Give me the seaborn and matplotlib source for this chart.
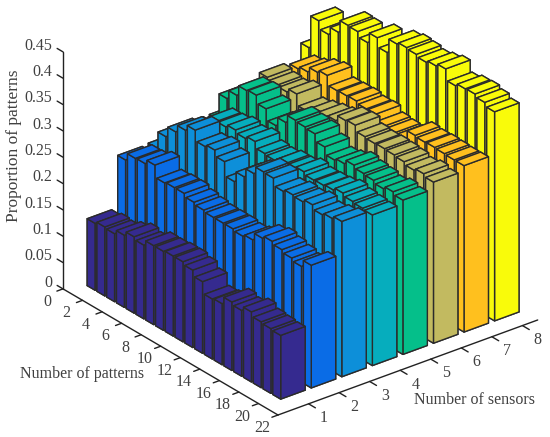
import matplotlib
matplotlib.use("Agg")
import matplotlib.pyplot as plt
import seaborn as sns
from mpl_toolkits.mplot3d import proj3d

sensors = [1, 2, 3, 4, 5, 6, 7, 8]
patterns = list(range(1, 21))

# proportion of patterns, one list per number of sensors
s1 = [.127, .131, .129, .137, .145, .140, .150, .150, .152, .152,
      .147, .136, .114, .116, .130, .125, .133, .125, .123, .121]
s2 = [.226, .240, .241, .249, .226, .228, .228, .222, .218, .215,
      .215, .215, .212, .216, .230, .235, .230, .225, .220, .233]
s3 = [.228, .260, .280, .294, .305, .285, .289, .278, .251, .271,
      .288, .302, .301, .287, .291, .289, .294, .286, .290, .295]
s4 = [.240, .250, .270, .289, .290, .295, .290, .295, .283, .281,
      .285, .285, .292, .287, .288, .290, .295, .290, .288, .286]
s5 = [.240, .290, .307, .327, .329, .314, .293, .310, .325, .323,
      .321, .307, .293, .297, .305, .300, .298, .293, .298, .293]
s6 = [.260, .285, .320, .316, .314, .321, .300, .305, .310, .314,
      .325, .327, .316, .314, .315, .314, .312, .307, .311, .306]
s7 = [.270, .280, .315, .320, .330, .335, .317, .318, .319, .315,
      .316, .305, .303, .302, .319, .317, .318, .317, .316, .316]
s8 = [.312, .374, .359, .374, .398, .397, .387, .407, .390, .417,
      .421, .419, .415, .419, .424, .403, .408, .409, .404, .397]
values = [s1, s2, s3, s4, s5, s6, s7, s8]

bar_colors = ["#352A8F", "#0A6CE6", "#0D8FD9", "#06ADBD",
              "#05BF8A", "#C2BA60", "#FFC01E", "#F9FB0A"]

pattern_ticks = list(range(0, 23, 2))
sensor_ticks = [1, 2, 3, 4, 5, 6, 7, 8]
z_ticks = [0, 0.05, 0.1, 0.15, 0.2, 0.25, 0.3, 0.35, 0.4, 0.45]
z_labels = ["0", "0.05", "0.1", "0.15", "0.2", "0.25", "0.3", "0.35", "0.4", "0.45"]

sns.set_theme(style="white")
plt.rcParams["font.family"] = ["Liberation Serif", "DejaVu Serif"]
text_color = "#404040"
line_color = "#222222"
tick_size = 11.5
palette = sns.color_palette(bar_colors)

W, H = 550, 437
fig = plt.figure(figsize=(W / 100, H / 100), dpi=100)
ax = fig.add_axes([0, 0, 1, 1], projection="3d", proj_type="ortho", computed_zorder=False)
ax.view_init(elev=27.6, azim=-128.3)
ax.set_box_aspect((331, 347, 267.5))

# back to front so that the bars hide each other properly
order = 1
for i in range(len(sensors) - 1, -1, -1):
    for j in range(len(patterns)):
        bar = ax.bar3d(sensors[i] - 0.4, patterns[j] - 0.4, 0, 0.8, 0.8, values[i][j],
                       color=palette[i], edgecolor="#2b2b2b", linewidth=1.0, shade=False)
        bar.set_zorder(order)
        bar.set_clip_on(False)
        order += 1

ax.set_xlim(0, 8.5)
ax.set_ylim(22, 0)
ax.set_zlim(0, 0.45)
ax.set_axis_off()


def axis_line(xs, ys, zs):
    ax.plot(xs, ys, zs, color=line_color, lw=1, zorder=0, clip_on=False)


axis_line([0, 0], [22, 0], [0, 0])
axis_line([0, 8.5], [22, 22], [0, 0])
axis_line([0, 0], [0, 0], [0, 0.45])

for n in pattern_ticks:
    axis_line([0, -0.2], [n, n], [0, 0])
for s in sensor_ticks:
    axis_line([s, s], [22, 22.7], [0, 0])
for z in z_ticks:
    axis_line([0, 0], [0, -0.6], [z, z])


def to_pixels(x, y, z):
    px, py, _ = proj3d.proj_transform(x, y, z, ax.get_proj())
    return ax.transData.transform((px, py))


# fit the axes box so the drawn axis corners land where they should
fig.canvas.draw()
side0 = ax.get_position().height * H
length0 = to_pixels(0, 0, 0.45)[1] - to_pixels(0, 0, 0)[1]
side = side0 * 237 / length0
ax.set_position([0, 0, side / W, side / H])
fig.canvas.draw()
corner = to_pixels(0, 22, 0)
ax.set_position([(278 - corner[0]) / W, (22 - corner[1]) / H, side / W, side / H])
fig.canvas.draw()


def tick_text(x, y, z, s, ha="center"):
    p = to_pixels(x, y, z)
    fig.text(p[0] / W, p[1] / H, s, ha=ha, va="center", color=text_color, fontsize=tick_size)


for n in pattern_ticks:
    tick_text(-0.77, n + 0.77, 0, str(n))
for s in sensor_ticks:
    tick_text(s - 0.18, 24.13, 0, str(s))
for z, lab in zip(z_ticks, z_labels):
    tick_text(0, -1.1, z, lab, ha="right")

fig.text(14 / W, 1 - 146 / H, "Proportion of patterns", rotation=90, ha="center", va="center",
         color=text_color, fontsize=12.5)
fig.text(82 / W, 1 - 374 / H, "Number of patterns", ha="center", va="center",
         color=text_color, fontsize=11.5)
fig.text(474 / W, 1 - 400 / H, "Number of sensors", ha="center", va="center",
         color=text_color, fontsize=11.5)

fig.savefig("out.png", dpi=100)
plt.close(fig)
